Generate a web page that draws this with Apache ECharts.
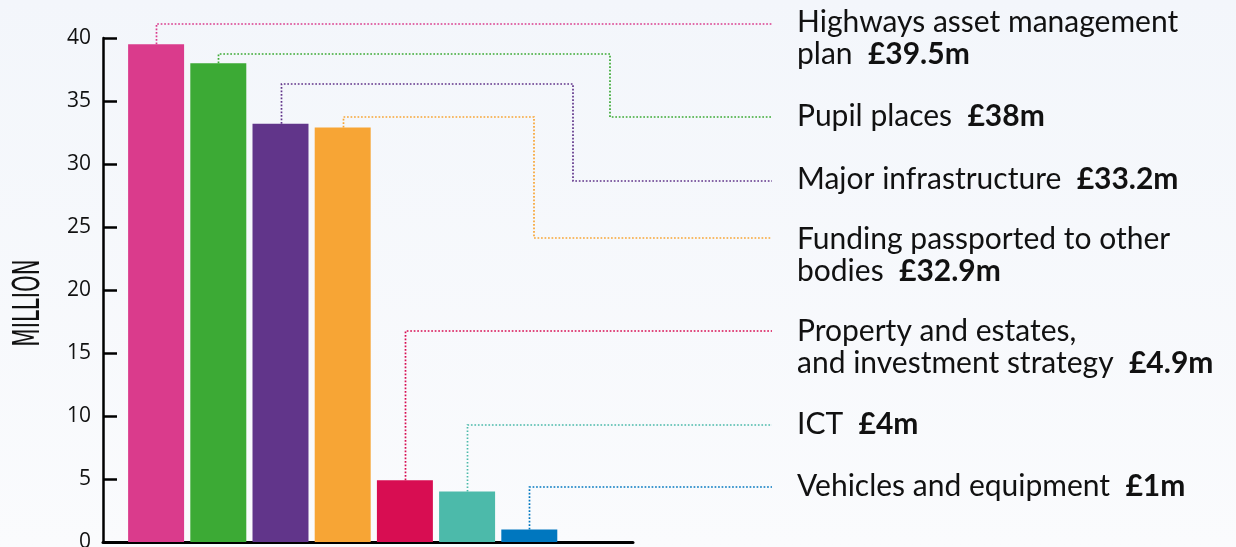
<!DOCTYPE html>
<html><head><meta charset="utf-8">
<script src="https://cdn.jsdelivr.net/npm/echarts@6/dist/echarts.min.js"></script>
<style>html,body{margin:0;padding:0;background:#f6f8fc}#c{width:1236px;height:547px}</style>
</head><body><div id="c"></div>
<script>
// ---- data ----
const categories = ['Highways asset management plan','Pupil places','Major infrastructure','Funding passported to other bodies','Property and estates, and investment strategy','ICT','Vehicles and equipment'];
const values = [39.5, 38, 33.2, 32.9, 4.9, 4, 1];
const valueLabels = ['£39.5m','£38m','£33.2m','£32.9m','£4.9m','£4m','£1m'];
const labelLines = [['Highways asset management','plan'],['Pupil places'],['Major infrastructure'],['Funding passported to other','bodies'],['Property and estates,','and investment strategy'],['ICT'],['Vehicles and equipment']];
const colors = ['#da3b8c','#3caa35','#61358a','#f7a535','#d80d52','#4cbaaa','#0077bf'];
const yTicks = [0,5,10,15,20,25,30,35,40];
const yTitle = 'MILLION';

// ---- layout (pixels) ----
const elbowY = [24, 54, 84, 117, 331, 425, 487];
const jogX = [null, 610, 573, 534, null, null, null];
const labelY = [24, 117, 181, 238, 331, 425, 487];
const textTop = [6, 100, 163, 223, 315, 408, 470];
const lineEndX = 772, textX = 797;

const chart = echarts.init(document.getElementById('c'));
const GT = 38, GB = 5;
chart.setOption({
  backgroundColor: {type:'linear',x:0,y:0,x2:0,y2:1,colorStops:[{offset:0,color:'#f3f6fb'},{offset:1,color:'#fafbfd'}]},
  animation:false,
  grid:[
    {left:103, width:530, top:GT, bottom:GB, outerBoundsMode:'none', containLabel:false},
    {left:125, width:435.4, top:GT, bottom:GB, outerBoundsMode:'none', containLabel:false}
  ],
  xAxis:[
    {type:'value', gridIndex:0, min:0, max:1, axisLine:{show:true,lineStyle:{color:'#000',width:3}}, axisTick:{show:false}, axisLabel:{show:false}, splitLine:{show:false}},
    {type:'category', gridIndex:1, data:categories, axisLine:{show:false}, axisTick:{show:false}, axisLabel:{show:false}}
  ],
  yAxis:[
    {type:'value', gridIndex:0, min:yTicks[0], max:yTicks[yTicks.length-1], interval:5,
     axisLine:{show:true, lineStyle:{color:'#000', width:2.5}},
     axisTick:{show:true, inside:true, length:14, lineStyle:{color:'#000', width:2.5}},
     axisLabel:{fontFamily:'Open Sans', fontSize:21, color:'#111', margin:12},
     splitLine:{show:false}},
    {type:'value', gridIndex:1, min:yTicks[0], max:yTicks[yTicks.length-1], show:false, splitLine:{show:false}}
  ],
  series:[{
    type:'bar', xAxisIndex:1, yAxisIndex:1, barCategoryGap:'10%',
    data: values.map((v,i)=>({value:v, itemStyle:{color:colors[i]}}))
  }]
});

const g = [];
g.push({type:'text', x:29, y:303, rotation:Math.PI/2, scaleX:0.64,
  style:{text:yTitle, align:'center', verticalAlign:'middle', fill:'#111',
    font:'normal 37px "DejaVu Sans Condensed", "DejaVu Sans", sans-serif'}});
values.forEach((v,i)=>{
  const p = chart.convertToPixel({seriesIndex:0}, [i, v]);
  const x = Math.round(p[0]) + 0.5;
  const pts = [[x, p[1]], [x, elbowY[i]]];
  if (jogX[i] !== null) { pts.push([jogX[i], elbowY[i]]); pts.push([jogX[i], labelY[i]]); }
  else pts[1] = [x, labelY[i]];
  pts.push([lineEndX, labelY[i]]);
  g.push({type:'polyline', shape:{points:pts}, style:{stroke:colors[i], lineWidth:1.7, lineDash:[1.7,1.8], fill:null}, z:10});
  const lines = labelLines[i];
  let txt = lines.slice(0,-1).map(s=>'{n|'+s+'}').join('\n');
  if (txt) txt += '\n';
  txt += '{n|'+lines[lines.length-1]+'  }{b|'+valueLabels[i]+'}';
  g.push({type:'text', x:textX, y:textTop[i], style:{text:txt, fill:'#111', verticalAlign:'top',
    rich:{n:{fontFamily:'Lato', fontSize:30, lineHeight:32, color:'#111'}, b:{fontFamily:'Lato', fontWeight:'bold', fontSize:30, lineHeight:32, color:'#111'}}}, z:10});
});
chart.setOption({graphic:g});
</script></body></html>
